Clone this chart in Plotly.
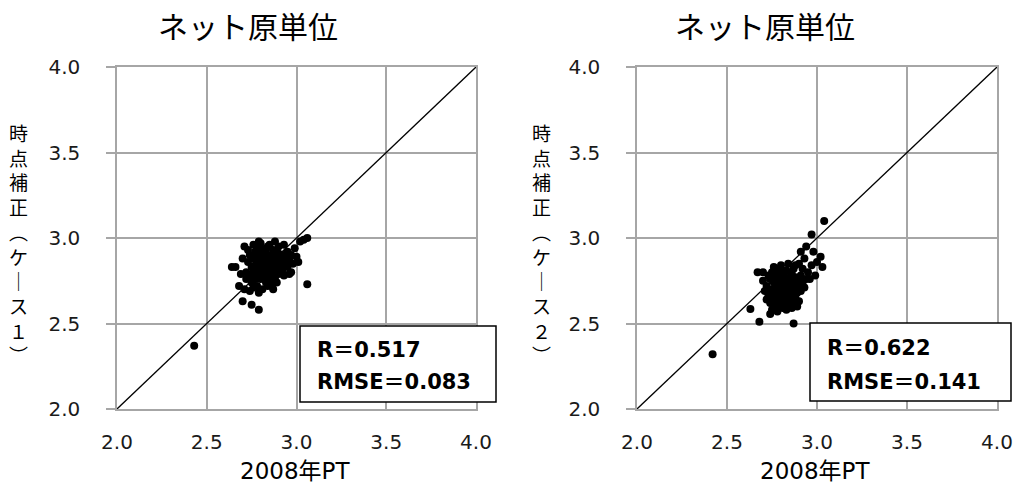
import plotly.graph_objects as go

W, H = 1013, 492

# ---------------- data ----------------
left_x = [2.43, 3.04, 3.06, 3.02, 3.06, 2.79, 2.75, 2.70, 2.87, 2.96, 3.01, 2.71, 2.79, 2.88, 2.64, 2.68, 2.71,
          2.72, 2.73, 2.74, 2.74, 2.75, 2.75, 2.76, 2.76, 2.77, 2.77, 2.77, 2.78, 2.78, 2.78, 2.79, 2.79, 2.79,
          2.80, 2.80, 2.80, 2.81, 2.81, 2.81, 2.82, 2.82, 2.82, 2.83, 2.83, 2.83, 2.84, 2.84, 2.84, 2.85, 2.85,
          2.85, 2.86, 2.86, 2.86, 2.87, 2.87, 2.87, 2.88, 2.88, 2.88, 2.89, 2.89, 2.90, 2.90, 2.90, 2.91, 2.91,
          2.92, 2.92, 2.93, 2.93, 2.94, 2.95, 2.95, 2.96, 2.97, 2.98, 2.99, 3.00, 2.66, 2.69, 2.70, 2.73, 2.76,
          2.80, 2.85, 2.90, 2.93, 2.76, 2.79, 2.84, 2.89, 2.93, 2.97, 2.72, 2.82, 2.85, 2.80, 2.88, 2.83, 2.86,
          2.78, 2.74]
left_y = [2.37, 2.99, 3.00, 2.98, 2.73, 2.58, 2.61, 2.63, 2.70, 2.79, 2.86, 2.95, 2.98, 2.98, 2.83, 2.72, 2.70,
          2.80, 2.86, 2.78, 2.90, 2.83, 2.74, 2.88, 2.80, 2.84, 2.76, 2.92, 2.82, 2.87, 2.72, 2.79, 2.90, 2.85,
          2.83, 2.76, 2.94, 2.88, 2.81, 2.70, 2.85, 2.78, 2.91, 2.83, 2.87, 2.74, 2.80, 2.89, 2.95, 2.84, 2.77,
          2.86, 2.82, 2.90, 2.73, 2.87, 2.79, 2.93, 2.85, 2.81, 2.76, 2.88, 2.83, 2.91, 2.86, 2.79, 2.84, 2.89,
          2.87, 2.81, 2.90, 2.85, 2.88, 2.83, 2.92, 2.87, 2.90, 2.85, 2.94, 2.89, 2.83, 2.79, 2.88, 2.93, 2.96,
          2.97, 2.96, 2.95, 2.96, 2.71, 2.68, 2.72, 2.74, 2.78, 2.80, 2.76, 2.88, 2.80, 2.86, 2.90, 2.93, 2.84,
          2.94, 2.69]

right_x = [2.42, 3.04, 2.97, 2.94, 2.91, 3.02, 3.03, 2.68, 2.87, 2.63, 2.74, 2.67, 2.70,
           2.98, 3.00, 2.97, 2.95, 2.99, 2.96, 2.93, 2.90,
           2.72, 2.73, 2.74, 2.74, 2.75, 2.75, 2.76, 2.76, 2.77, 2.77, 2.77, 2.78, 2.78, 2.78, 2.79, 2.79,
           2.79, 2.80, 2.80, 2.80, 2.81, 2.81, 2.81, 2.82, 2.82, 2.82, 2.83, 2.83, 2.83, 2.84, 2.84, 2.84,
           2.85, 2.85, 2.85, 2.86, 2.86, 2.86, 2.87, 2.87, 2.88, 2.88, 2.88, 2.89, 2.89, 2.90, 2.90, 2.91,
           2.91, 2.92, 2.92, 2.93, 2.94, 2.73, 2.71, 2.70, 2.72, 2.75, 2.78, 2.83, 2.86, 2.89, 2.76, 2.80,
           2.84, 2.87, 2.81, 2.79, 2.76, 2.74, 2.82, 2.85, 2.88, 2.80]
right_y = [2.32, 3.10, 3.02, 2.95, 2.92, 2.89, 2.83, 2.51, 2.50, 2.585, 2.555, 2.80, 2.80,
           2.92, 2.86, 2.84, 2.80, 2.78, 2.76, 2.88, 2.85,
           2.72, 2.66, 2.76, 2.62, 2.70, 2.80, 2.67, 2.74, 2.60, 2.71, 2.78, 2.65, 2.73, 2.82, 2.69, 2.62,
           2.76, 2.71, 2.66, 2.80, 2.74, 2.59, 2.68, 2.72, 2.77, 2.63, 2.70, 2.66, 2.81, 2.74, 2.60, 2.69,
           2.77, 2.72, 2.64, 2.70, 2.79, 2.67, 2.74, 2.61, 2.71, 2.77, 2.84, 2.68, 2.75, 2.72, 2.63, 2.78,
           2.69, 2.74, 2.82, 2.71, 2.76, 2.78, 2.69, 2.75, 2.64, 2.58, 2.57, 2.58, 2.59, 2.60, 2.83, 2.84,
           2.85, 2.82, 2.78, 2.73, 2.63, 2.68, 2.68, 2.68, 2.65, 2.62]

diag = [2.0, 4.0]
tick_vals = [2.0, 2.5, 3.0, 3.5, 4.0]
tick_text = ["2.0", "2.5", "3.0", "3.5", "4.0"]

panel_title = "ネット原単位"
x_title = "2008年PT"
# vertical (tategaki) rendering of 時点補正（ケース１） / 時点補正（ケース２）
y_titles = ["時<br>点<br>補<br>正<br>︵<br>ケ<br>｜<br>ス<br>１<br>︶",
            "時<br>点<br>補<br>正<br>︵<br>ケ<br>｜<br>ス<br>２<br>︶"]
stats = [("R＝0.517", "RMSE＝0.083"), ("R＝0.622", "RMSE＝0.141")]

# ---------------- layout helpers ----------------
def px_x(p):
    return p / W

def px_y(p):
    return 1 - p / H

grid_col = "#a6a6a6"
tick_font = dict(family="DejaVu Sans", size=20, color="#1a1a1a")

fig = go.Figure()
panels = [(left_x, left_y, "x", "y"), (right_x, right_y, "x2", "y2")]
for xs, ys, xa, ya in panels:
    fig.add_trace(go.Scatter(x=diag, y=diag, mode="lines", line=dict(color="black", width=1.3),
                             xaxis=xa, yaxis=ya, showlegend=False, hoverinfo="skip"))
    fig.add_trace(go.Scatter(x=xs, y=ys, mode="markers", marker=dict(color="black", size=8),
                             xaxis=xa, yaxis=ya, showlegend=False))

x_domains = [[px_x(117), px_x(476)], [px_x(637), px_x(997)]]
y_domain = [px_y(409), px_y(67)]

def xaxis_cfg(dom, anchor):
    return dict(domain=dom, anchor=anchor, range=[2.0, 4.0], tickvals=tick_vals, ticktext=tick_text,
                showgrid=True, gridcolor=grid_col, gridwidth=1.5, showline=True, mirror=True,
                linecolor=grid_col, linewidth=1.5, zeroline=False, ticks="", automargin=False,
                ticklabelstandoff=14, tickfont=tick_font, fixedrange=True)

def yaxis_cfg(anchor):
    return dict(domain=y_domain, anchor=anchor, range=[2.0, 4.0], tickvals=tick_vals, ticktext=tick_text,
                showgrid=True, gridcolor=grid_col, gridwidth=1.5, showline=True, mirror=True,
                linecolor=grid_col, linewidth=1.5, zeroline=False, ticks="outside", ticklen=9,
                tickcolor=grid_col, tickwidth=1.5, ticklabelstandoff=22, tickfont=tick_font,
                automargin=False, fixedrange=True)

annotations = []
shapes = []
title_cx = [248, 765]
ytitle_cx = [18, 541]
box_px = [(300, 326, 496, 402), (810, 323, 1011, 401)]
text_left = [315, 825]
line_y = [(350, 382), (348, 382)]
x_title_cx = [295, 815]

for i in range(2):
    annotations.append(dict(text=panel_title, x=px_x(title_cx[i]), y=px_y(25), xref="paper", yref="paper",
                            xanchor="center", yanchor="middle", showarrow=False,
                            font=dict(family="Noto Sans CJK JP", size=30, color="black")))
    annotations.append(dict(text=x_title, x=px_x(x_title_cx[i]), y=px_y(471), xref="paper", yref="paper",
                            xanchor="center", yanchor="middle", showarrow=False,
                            font=dict(family="DejaVu Sans, Noto Sans CJK JP", size=23, color="black")))
    annotations.append(dict(text=y_titles[i], x=px_x(ytitle_cx[i]), y=px_y(243), xref="paper",
                            yref="paper", xanchor="center", yanchor="middle", showarrow=False,
                            font=dict(family="Noto Sans CJK JP", size=19, color="black")))
    x0, y0, x1, y1 = box_px[i]
    shapes.append(dict(type="rect", xref="paper", yref="paper", x0=px_x(x0), x1=px_x(x1),
                       y0=px_y(y1), y1=px_y(y0), fillcolor="white",
                       line=dict(color="black", width=1.5), layer="above"))
    for j in range(2):
        annotations.append(dict(text="<b>" + stats[i][j] + "</b>", x=px_x(text_left[i]), y=px_y(line_y[i][j]),
                                xref="paper", yref="paper", xanchor="left", yanchor="middle",
                                showarrow=False,
                                font=dict(family="DejaVu Sans, Noto Sans CJK JP", size=21, color="black")))

fig.update_layout(
    width=W, height=H, margin=dict(l=0, r=0, t=0, b=0, autoexpand=False),
    paper_bgcolor="white", plot_bgcolor="white",
    xaxis=xaxis_cfg(x_domains[0], "y"), yaxis=yaxis_cfg("x"),
    xaxis2=xaxis_cfg(x_domains[1], "y2"), yaxis2=yaxis_cfg("x2"),
    annotations=annotations, shapes=shapes,
)

fig.write_html("out.html", config={"displayModeBar": False},
               post_script="document.body.style.margin='0';document.body.style.overflow='hidden';")
